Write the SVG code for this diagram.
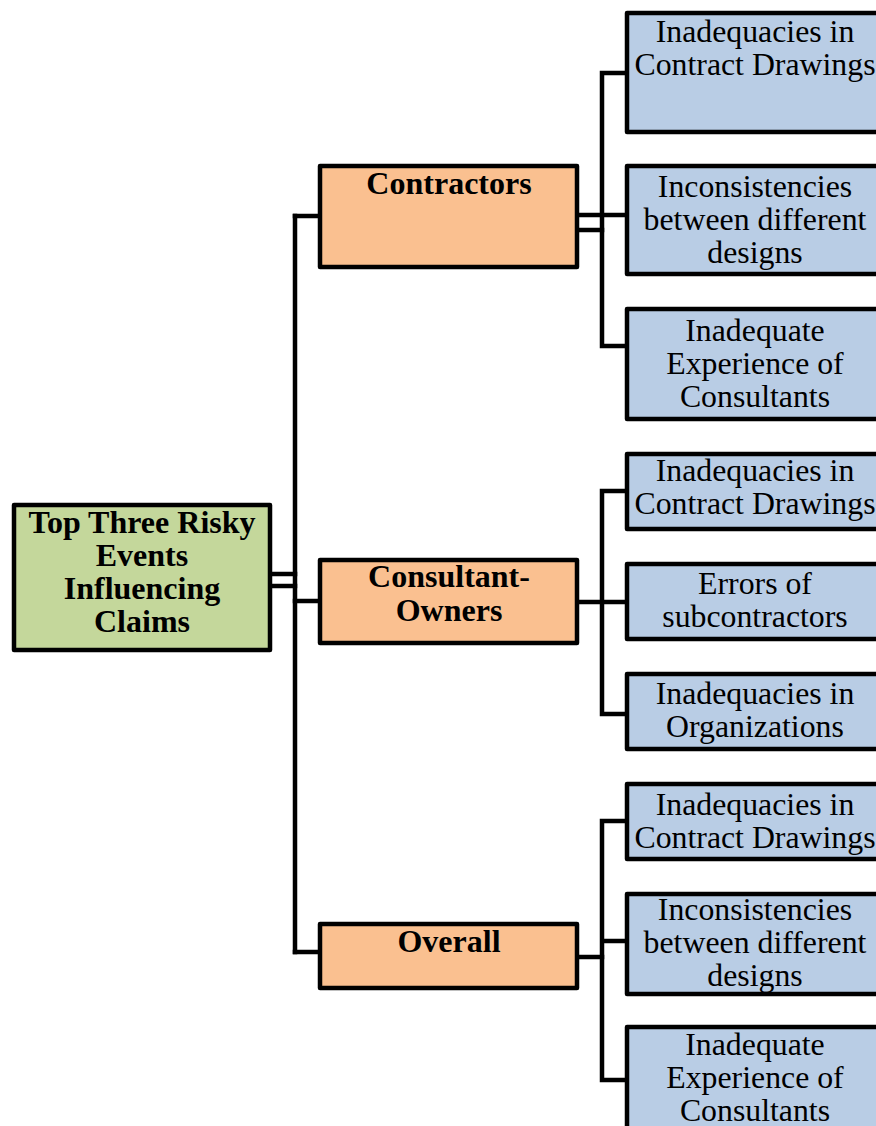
<svg xmlns="http://www.w3.org/2000/svg" width="876" height="1126" viewBox="0 0 876 1126">
  <style>
    .box { stroke: #000; stroke-width: 4.5; stroke-linejoin: round; }
    .root { fill: #c4d79b; }
    .group { fill: #fac090; }
    .item { fill: #b9cde5; }
    .wire { fill: none; stroke: #000; stroke-width: 4.5; stroke-linecap: square; }
    text { font-family: "Liberation Serif", "Times New Roman", serif; font-size: 31.8px; fill: #000; text-anchor: middle; }
    .bold { font-weight: bold; font-size: 32px; }
  </style>
  <rect width="876" height="1126" fill="#fff"/>

  <!-- connectors -->
  <g id="connectors">
    <!-- root to trunk -->
    <path class="wire" d="M270 574 H295 M270 586 H295"/>
    <path class="wire" d="M295 216 V952"/>
    <path class="wire" d="M295 216 H320 M295 601 H320 M295 952 H320"/>
    <!-- contractors branch -->
    <path class="wire" d="M577 215 H628 M577 230 H602"/>
    <path class="wire" d="M602 73 V346 M602 73 H628 M602 346 H628"/>
    <!-- consultant-owners branch -->
    <path class="wire" d="M577 602 H628"/>
    <path class="wire" d="M602 491 V714 M602 491 H628 M602 714 H628"/>
    <!-- overall branch -->
    <path class="wire" d="M577 957 H602"/>
    <path class="wire" d="M602 821 V1080 M602 821 H628 M602 941 H628 M602 1080 H628"/>
  </g>

  <!-- root -->
  <g id="root">
    <rect class="box root" x="14" y="505" width="256" height="145"/>
    <text class="bold" x="142" y="533">Top Three Risky</text>
    <text class="bold" x="142" y="566">Events</text>
    <text class="bold" x="142" y="599">Influencing</text>
    <text class="bold" x="142" y="632">Claims</text>
  </g>

  <!-- groups -->
  <g id="contractors">
    <rect class="box group" x="320" y="166" width="257" height="101"/>
    <text class="bold" x="449" y="194">Contractors</text>
  </g>
  <g id="consultant-owners">
    <rect class="box group" x="320" y="560" width="257" height="83"/>
    <text class="bold" x="449" y="587">Consultant-</text>
    <text class="bold" x="449" y="621">Owners</text>
  </g>
  <g id="overall">
    <rect class="box group" x="320" y="924" width="257" height="64"/>
    <text class="bold" x="449" y="952">Overall</text>
  </g>

  <!-- contractors items -->
  <g id="c-drawings">
    <rect class="box item" x="627" y="13" width="262" height="119"/>
    <text x="755" y="42">Inadequacies in</text>
    <text x="755" y="75">Contract Drawings</text>
  </g>
  <g id="c-designs">
    <rect class="box item" x="627" y="166" width="262" height="108"/>
    <text x="755" y="197">Inconsistencies</text>
    <text x="755" y="230">between different</text>
    <text x="755" y="263">designs</text>
  </g>
  <g id="c-experience">
    <rect class="box item" x="627" y="309" width="262" height="110"/>
    <text x="755" y="341">Inadequate</text>
    <text x="755" y="374">Experience of</text>
    <text x="755" y="407">Consultants</text>
  </g>

  <!-- consultant-owners items -->
  <g id="co-drawings">
    <rect class="box item" x="627" y="454" width="262" height="75"/>
    <text x="755" y="481">Inadequacies in</text>
    <text x="755" y="514">Contract Drawings</text>
  </g>
  <g id="co-subcontractors">
    <rect class="box item" x="627" y="564" width="262" height="75"/>
    <text x="755" y="594">Errors of</text>
    <text x="755" y="627">subcontractors</text>
  </g>
  <g id="co-organizations">
    <rect class="box item" x="627" y="674" width="262" height="75"/>
    <text x="755" y="704">Inadequacies in</text>
    <text x="755" y="737">Organizations</text>
  </g>

  <!-- overall items -->
  <g id="o-drawings">
    <rect class="box item" x="627" y="784" width="262" height="75"/>
    <text x="755" y="815">Inadequacies in</text>
    <text x="755" y="848">Contract Drawings</text>
  </g>
  <g id="o-designs">
    <rect class="box item" x="627" y="894" width="262" height="100"/>
    <text x="755" y="920">Inconsistencies</text>
    <text x="755" y="953">between different</text>
    <text x="755" y="986">designs</text>
  </g>
  <g id="o-experience">
    <rect class="box item" x="627" y="1027" width="262" height="120"/>
    <text x="755" y="1055">Inadequate</text>
    <text x="755" y="1088">Experience of</text>
    <text x="755" y="1121">Consultants</text>
  </g>
</svg>
